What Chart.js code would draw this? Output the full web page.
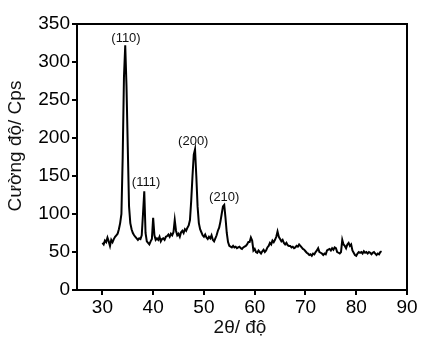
<!DOCTYPE html>
<html>
<head>
<meta charset="utf-8">
<script src="https://cdn.jsdelivr.net/npm/chart.js@4"></script>
<style>
  html, body { margin: 0; padding: 0; background: #fff; }
  #wrap { width: 431px; height: 344px; }
</style>
</head>
<body>
<div id="wrap"><canvas id="chart" width="431" height="344"></canvas></div>
<script>
// 2θ (degrees), one row per degree
const twoTheta = [
  30, 30.25, 30.5, 30.75, 31, 31.25, 31.5, 31.75, 32, 32.25, 32.5, 32.75,
  33, 33.25, 33.5, 33.75, 34, 34.25, 34.5, 34.75, 35, 35.25, 35.5, 35.75,
  36, 36.25, 36.5, 36.75, 37, 37.25, 37.5, 37.75, 38, 38.25, 38.5, 38.75,
  39, 39.25, 39.5, 39.75, 40, 40.25, 40.5, 40.75, 41, 41.25, 41.5, 41.75,
  42, 42.25, 42.5, 42.75, 43, 43.25, 43.5, 43.75, 44, 44.25, 44.5, 44.75,
  45, 45.25, 45.5, 45.75, 46, 46.25, 46.5, 46.75, 47, 47.25, 47.5, 47.75,
  48, 48.25, 48.5, 48.75, 49, 49.25, 49.5, 49.75, 50, 50.25, 50.5, 50.75,
  51, 51.25, 51.5, 51.75, 52, 52.25, 52.5, 52.75, 53, 53.25, 53.5, 53.75,
  54, 54.25, 54.5, 54.75, 55, 55.25, 55.5, 55.75, 56, 56.25, 56.5, 56.75,
  57, 57.25, 57.5, 57.75, 58, 58.25, 58.5, 58.75, 59, 59.25, 59.5, 59.75,
  60, 60.25, 60.5, 60.75, 61, 61.25, 61.5, 61.75, 62, 62.25, 62.5, 62.75,
  63, 63.25, 63.5, 63.75, 64, 64.25, 64.5, 64.75, 65, 65.25, 65.5, 65.75,
  66, 66.25, 66.5, 66.75, 67, 67.25, 67.5, 67.75, 68, 68.25, 68.5, 68.75,
  69, 69.25, 69.5, 69.75, 70, 70.25, 70.5, 70.75, 71, 71.25, 71.5, 71.75,
  72, 72.25, 72.5, 72.75, 73, 73.25, 73.5, 73.75, 74, 74.25, 74.5, 74.75,
  75, 75.25, 75.5, 75.75, 76, 76.25, 76.5, 76.75, 77, 77.25, 77.5, 77.75,
  78, 78.25, 78.5, 78.75, 79, 79.25, 79.5, 79.75, 80, 80.25, 80.5, 80.75,
  81, 81.25, 81.5, 81.75, 82, 82.25, 82.5, 82.75, 83, 83.25, 83.5, 83.75,
  84, 84.25, 84.5, 84.75, 85
];

// intensity (Cps), same rows
const counts = [
  62, 60, 65, 63, 69, 64, 58, 66,
  63, 67, 70, 72, 74, 80, 88, 100,
  175, 280, 322, 268, 188, 110, 88, 80,
  75, 72, 70, 68, 66, 68, 67, 72,
  100, 130, 75, 64, 62, 60, 64, 67,
  95, 72, 66, 68, 66, 70, 64, 67,
  68, 66, 70, 71, 73, 70, 74, 72,
  76, 92, 78, 72, 74, 70, 76, 78,
  75, 80, 78, 82, 85, 92, 118, 150,
  178, 185, 150, 110, 88, 80, 76, 72,
  70, 73, 69, 67, 70, 68, 72, 66,
  64, 68, 72, 78, 82, 90, 100, 110,
  112, 95, 75, 63, 58, 57, 56, 58,
  56, 57, 55, 56, 57, 55, 54, 56,
  57, 58, 60, 63, 63, 69, 65, 52,
  54, 50, 49, 52, 50, 48, 51, 53,
  50, 52, 56, 58, 62, 60, 65, 63,
  66, 70, 77, 70, 67, 64, 66, 62,
  60, 62, 59, 58, 58, 56, 57, 55,
  56, 58, 57, 60, 58, 56, 54, 53,
  51, 49, 48, 46, 47, 45, 48, 47,
  50, 52, 55, 50, 49, 48, 46, 48,
  47, 52, 53, 54, 52, 55, 53, 56,
  55, 50, 49, 48, 50, 66, 60, 58,
  55, 60, 62, 58, 60, 52, 49, 46,
  45, 48, 50, 49, 50, 48, 51, 49,
  50, 48, 50, 49, 47, 49, 50, 48,
  46, 48, 47, 50, 51
];

const xTicks = [30, 40, 50, 60, 70, 80, 90];
const yTicks = [0, 50, 100, 150, 200, 250, 300, 350];
const xTitle = '2θ/ độ';
const yTitle = 'Cường độ/ Cps';

// Miller index labels, placed in data coordinates
const peakLabels = ['(110)', '(111)', '(200)', '(210)'];
const peakLabelX = [34.65, 38.6, 47.9, 54.0];
const peakLabelY = [331, 141, 196, 122];

const points = twoTheta.map((t, i) => ({ x: t, y: counts[i] }));
const fontFamily = '"Liberation Sans", Arial, sans-serif';

const frameAndLabels = {
  id: 'frameAndLabels',
  afterDraw(chart) {
    const { ctx, chartArea, scales } = chart;
    ctx.save();
    ctx.strokeStyle = '#000';
    ctx.lineWidth = 2;
    ctx.strokeRect(chartArea.left, chartArea.top,
      chartArea.right - chartArea.left, chartArea.bottom - chartArea.top);

    ctx.fillStyle = '#111';
    ctx.textAlign = 'center';
    ctx.textBaseline = 'middle';
    ctx.font = '13px ' + fontFamily;
    peakLabels.forEach((txt, i) => {
      ctx.fillText(txt, scales.x.getPixelForValue(peakLabelX[i]),
        scales.y.getPixelForValue(peakLabelY[i]));
    });

    // axis titles
    ctx.font = '19px ' + fontFamily;
    ctx.fillText(xTitle, (chartArea.left + chartArea.right) / 2 - 2, 328);
    ctx.translate(16, 146);
    ctx.rotate(-Math.PI / 2);
    ctx.fillText(yTitle, 0, 0);
    ctx.restore();
  }
};

const axisFont = { family: fontFamily, size: 19 };

new Chart(document.getElementById('chart'), {
  type: 'line',
  data: {
    datasets: [{
      data: points,
      borderColor: '#000',
      borderWidth: 2,
      pointRadius: 0,
      tension: 0,
      fill: false
    }]
  },
  options: {
    responsive: false,
    animation: false,
    layout: { padding: { top: 24, right: 24, left: 0, bottom: 0 } },
    plugins: { legend: { display: false }, tooltip: { enabled: false } },
    scales: {
      x: {
        type: 'linear',
        min: 25,
        max: 90,
        afterBuildTicks: (s) => { s.ticks = xTicks.map(v => ({ value: v })); },
        afterFit: (s) => { s.height = 54; },
        border: { display: true, color: '#000', width: 2 },
        grid: { drawOnChartArea: false, drawTicks: true, tickLength: 5, color: '#000', lineWidth: 2 },
        ticks: { color: '#000', font: axisFont, padding: 1, maxRotation: 0 }
      },
      y: {
        min: 0,
        max: 350,
        afterBuildTicks: (s) => { s.ticks = yTicks.map(v => ({ value: v })); },
        afterFit: (s) => { s.width = 77; },
        border: { display: true, color: '#000', width: 2 },
        grid: { drawOnChartArea: false, drawTicks: true, tickLength: 5, color: '#000', lineWidth: 2 },
        ticks: { color: '#000', font: axisFont, padding: 2 }
      }
    }
  },
  plugins: [frameAndLabels]
});
</script>
</body>
</html>
